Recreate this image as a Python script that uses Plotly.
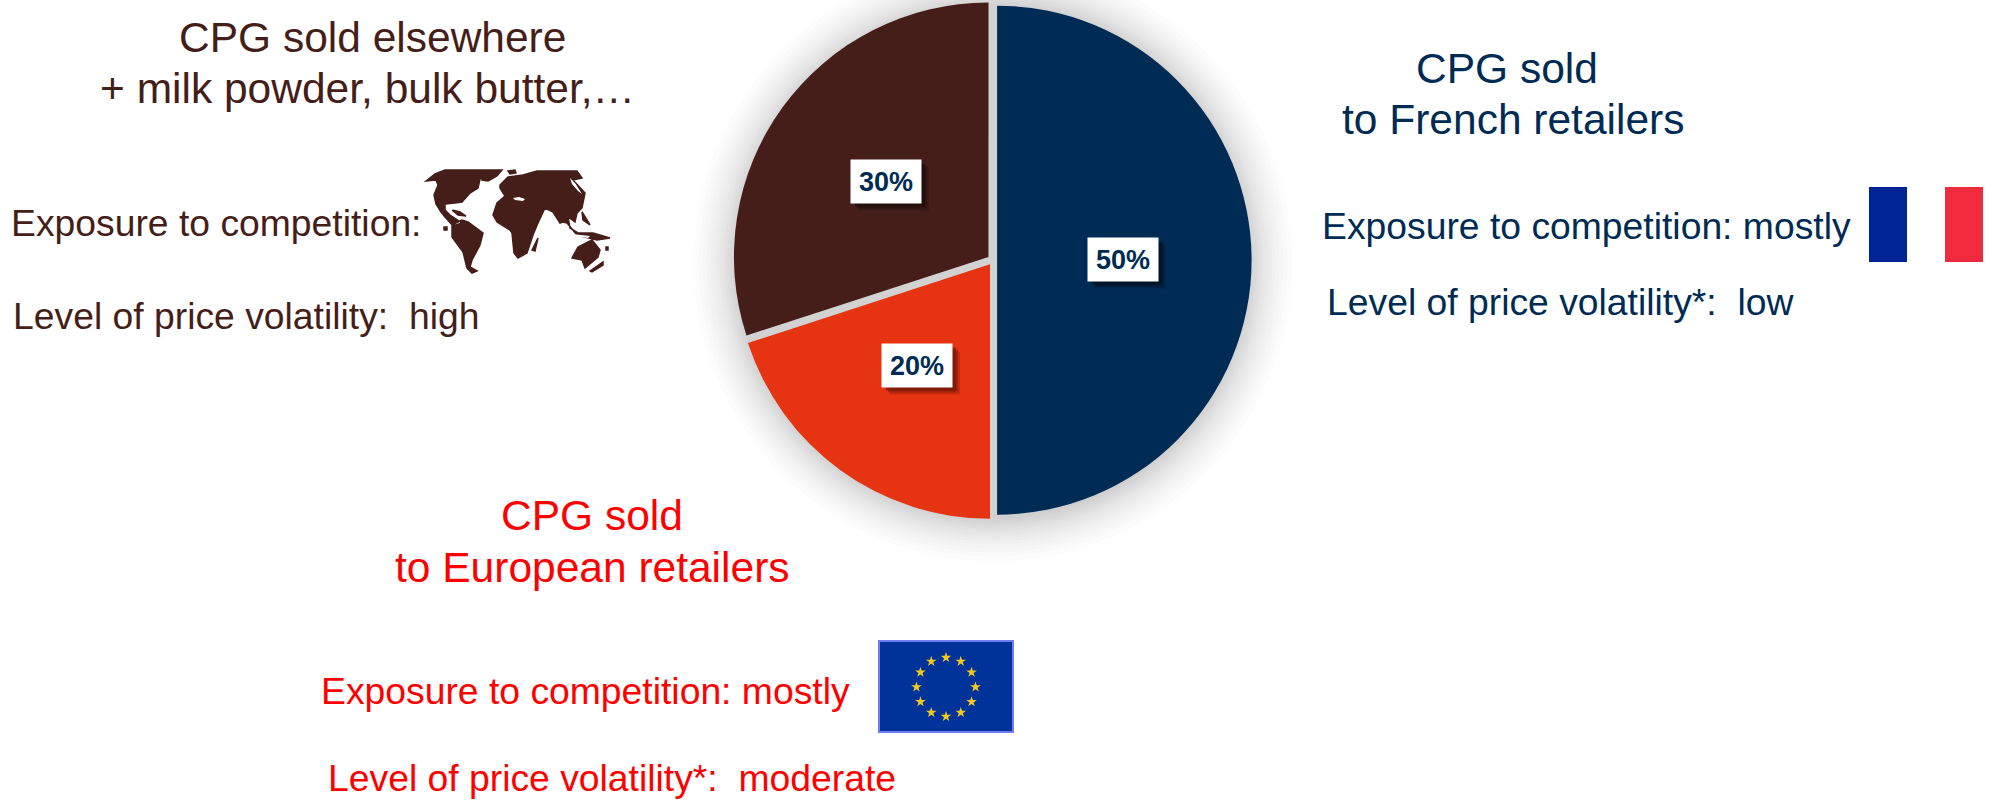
import math
import plotly.graph_objects as go

W, H = 1999, 800
categories = ["CPG sold to French retailers", "CPG sold to European retailers", "CPG sold elsewhere"]
shares = [50, 20, 30]
pulls = [0.016, 0.02, 0.022]
slice_colors = ["#002B54", "#E63312", "#451E1A"]
NAVY, RED, BROWN = "#002B54", "#FF0000", "#451E1A"
FONT = "Liberation Sans"

CX, CY, R = 993, 260.2, 254.5
D = R * (1 + max(pulls))

fig = go.Figure()
fig.add_trace(go.Pie(
    values=shares, labels=categories, sort=False, direction="clockwise", rotation=0,
    pull=pulls, textinfo="none", showlegend=False, hoverinfo="label+percent",
    marker=dict(colors=slice_colors, line=dict(width=0)),
    domain=dict(x=[(CX - D) / W, (CX + D) / W], y=[1 - (CY + D) / H, 1 - (CY - D) / H]),
))

shapes = []
def circle(r, color, opacity, cx=CX, cy=CY, layer="below"):
    shapes.append(dict(type="circle", xref="x", yref="y", x0=cx - r, x1=cx + r, y0=cy - r, y1=cy + r,
                       fillcolor=color, opacity=opacity, line=dict(width=0), layer=layer))

# soft shadow round the pie
for extra in (45, 40, 36, 32, 28, 25, 22, 19, 16, 14, 12, 10, 8, 6, 4, 2):
    circle(R + extra, "#000000", 0.010, cy=CY + 2)
circle(R - 1, "#D2D2D2", 1)

def rect(x0, y0, x1, y1, color, opacity=1, layer="above"):
    shapes.append(dict(type="rect", xref="x", yref="y", x0=x0, x1=x1, y0=y0, y1=y1,
                       fillcolor=color, opacity=opacity, line=dict(width=0), layer=layer))

# French flag
rect(1869, 187, 1907, 262, "#002395")
rect(1945, 187, 1983, 262, "#EF2B3D")
# EU flag (under the star markers)
rect(878, 640, 1014, 733, "#6F7FF0", layer="below")
rect(880, 642, 1012, 731, "#003399", layer="below")

# World map, traced in pixels
map_parts = [
    # North America
    [(426,181),(435,174),(445,170),(465,170),(502,170),(497,176),(488,181),(482,180),(481,175),(478,188),(470,193),(462,202),(455,203),(445,204),(445,210),(450,215),(462,223),(453,226),(445,217),(441,212),(436,204),(434,195),(438,185),(436,180)],
    # South America
    [(452,225),(462,220),(468,222),(483,233),(480,245),(472,260),(470,267),(477,271),(472,273),(467,268),(463,252),(452,237)],
    # Greenland
    [(508,171),(515,170),(516,173),(510,174)],
    # Eurasia and Africa
    [(500,185),(508,177),(523,175),(537,171),(577,171),(582,178),(573,180),(585,193),(582,208),(577,213),(575,222),(568,217),(570,228),(578,233),(593,233),(610,238),(597,240),(577,235),(567,223),(563,222),(560,223),(553,212),(545,208),(538,223),(533,235),(527,253),(518,258),(514,253),(512,233),(510,230),(497,222),(493,215),(497,203),(505,196),(500,188)],
    # Japan
    [(582,212),(587,220),(590,225),(583,220)],
    # Australia
    [(572,258),(578,247),(592,240),(600,250),(598,257),(585,268),(582,260)],
    # New Zealand
    [(590,271),(603,262),(603,265),(592,272)],
    # Madagascar
    [(532,250),(538,238),(535,251)],
    # Small islands
    [(444,227),(447,227),(447,230),(444,230)],
    [(606,247),(608,247),(608,250),(606,250)],
    [(452,210),(460,212),(466,216),(458,215)],
]
map_path = " ".join("M " + " L ".join(f"{x},{y}" for x, y in part) + " Z" for part in map_parts)
shapes.append(dict(type="path", path=map_path, xref="x", yref="y", fillcolor=BROWN,
                   line=dict(width=1.5, color=BROWN), layer="above"))
# Mediterranean and the sea gaps
sea_parts = [
    [(513,198),(519,197),(525,199),(523,201),(515,200)],
    [(570,178),(575,183),(582,194),(578,191),(572,184)],
    [(572,234),(590,236),(588,238),(574,236)],
    [(449,207),(456,206),(451,211)],
]
sea_path = " ".join("M " + " L ".join(f"{x},{y}" for x, y in part) + " Z" for part in sea_parts)
shapes.append(dict(type="path", path=sea_path, xref="x", yref="y", fillcolor="#FFFFFF", line=dict(width=0), layer="above"))

# Stars of the EU flag
star_count = 12
star_x = [946 + 29.5 * math.sin(2 * math.pi * i / star_count) for i in range(star_count)]
star_y = [687 - 29.5 * math.cos(2 * math.pi * i / star_count) for i in range(star_count)]
fig.add_trace(go.Scatter(x=star_x, y=star_y, mode="markers", hoverinfo="skip", showlegend=False,
                         marker=dict(symbol="star", size=8, color="#F2C81E", line=dict(width=0))))

ann = []
def text(x, y, s, color, size=37.3, anchor="left"):
    ann.append(dict(x=x, y=y, xref="x", yref="y", text=s, showarrow=False, xanchor=anchor, yanchor="middle",
                    font=dict(family=FONT, size=size, color=color)))

TITLE = 42.5
text(372, 37, "CPG sold elsewhere", BROWN, TITLE, "center")
text(367, 88, "+ milk powder, bulk butter,…", BROWN, TITLE, "center")
text(9, 223, "Exposure to competition:", BROWN)
text(10.5, 316, "Level of price volatility:  high", BROWN)

text(1507, 68, "CPG sold", NAVY, TITLE, "center")
text(1513, 119, "to French retailers", NAVY, TITLE, "center")
text(1319.5, 226, "Exposure to competition: mostly", NAVY)
text(1324.5, 302, "Level of price volatility*:  low", NAVY)

text(592, 515, "CPG sold", RED, TITLE, "center")
text(592, 567, "to European retailers", RED, TITLE, "center")
text(318.5, 690.5, "Exposure to competition: mostly", RED)
text(325.5, 778, "Level of price volatility*:  moderate", RED)

# Value labels: white boxes with a drop shadow
label_pos = [(1123, 259), (917, 365), (886, 181)]
for v, (lx, ly), col in zip(shares, label_pos, ["#00101F", "#6A1406", "#1C0C0A"]):
    for off, op in ((8, 0.25), (6, 0.4), (4, 0.6)):
        rect(lx - 35 + off, ly - 21.5 + off, lx + 35 + off, ly + 21.5 + off, col, op)
    ann.append(dict(x=lx, y=ly, xref="x", yref="y", text=f"<b>{v}%</b>", showarrow=False,
                    width=70, height=43, bgcolor="#FFFFFF", borderpad=0, align="center", valign="middle",
                    xanchor="center", yanchor="middle", font=dict(family=FONT, size=27, color=NAVY)))

axis = dict(visible=False, fixedrange=True, showgrid=False, zeroline=False)
fig.update_layout(
    width=W, height=H, margin=dict(l=0, r=0, t=0, b=0), autosize=False,
    paper_bgcolor="#FFFFFF", plot_bgcolor="rgba(0,0,0,0)", showlegend=False,
    xaxis=dict(range=[0, W], domain=[0, 1], **axis),
    yaxis=dict(range=[H, 0], domain=[0, 1], **axis),
    shapes=shapes, annotations=ann,
)
fig.write_html("out.html", post_script="document.body.style.margin='0';", config=dict(displayModeBar=False))
